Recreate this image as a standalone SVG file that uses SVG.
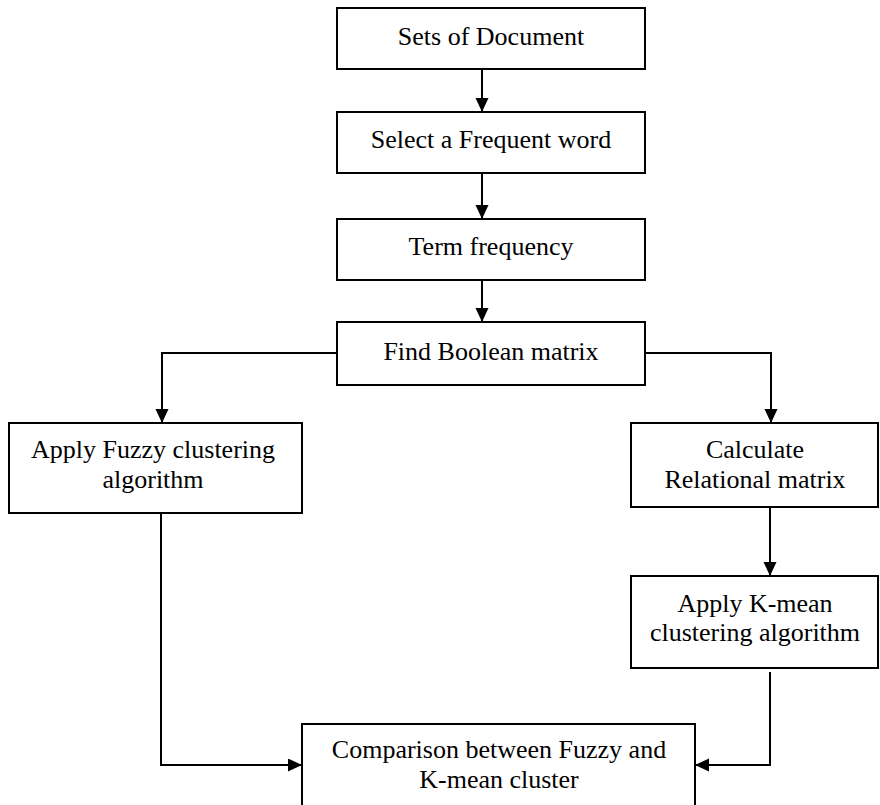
<svg xmlns="http://www.w3.org/2000/svg" width="880" height="805" viewBox="0 0 880 805">
<style>
.box{fill:#fff;stroke:#000;stroke-width:2}
.t{font-family:"Liberation Serif","Times New Roman",serif;font-size:26px;fill:#000;text-anchor:middle}
.c{fill:none;stroke:#000;stroke-width:2}
</style>
<defs>
<marker id="ah" markerUnits="userSpaceOnUse" markerWidth="14" markerHeight="14" refX="14" refY="6.5" orient="auto">
<path d="M0,0 L14,6.5 L0,13 Z" fill="#000"/>
</marker>
</defs>
<rect width="880" height="805" fill="#fff"/>
<g id="connectors">
<line class="c" x1="482" y1="69" x2="482" y2="112" marker-end="url(#ah)"/>
<line class="c" x1="482" y1="173" x2="482" y2="219" marker-end="url(#ah)"/>
<line class="c" x1="482" y1="280" x2="482" y2="322" marker-end="url(#ah)"/>
<polyline class="c" points="337,353 162,353 162,423" marker-end="url(#ah)"/>
<polyline class="c" points="645,353 771,353 771,423" marker-end="url(#ah)"/>
<line class="c" x1="770" y1="507" x2="770" y2="576" marker-end="url(#ah)"/>
<polyline class="c" points="161,513 161,765 302,765" marker-end="url(#ah)"/>
<polyline class="c" points="770,672 770,765 695,765" marker-end="url(#ah)"/>
</g>
<g id="n1"><rect class="box" x="337" y="8" width="308" height="61"/><text class="t" x="491" y="45">Sets of Document</text></g>
<g id="n2"><rect class="box" x="337" y="112" width="308" height="61"/><text class="t" x="491" y="148">Select a Frequent word</text></g>
<g id="n3"><rect class="box" x="337" y="219" width="308" height="61"/><text class="t" x="491" y="255">Term frequency</text></g>
<g id="n4"><rect class="box" x="337" y="322" width="308" height="63"/><text class="t" x="491" y="360">Find Boolean matrix</text></g>
<g id="n5"><rect class="box" x="9" y="423" width="293" height="90"/><text class="t" x="153" y="458">Apply Fuzzy clustering</text><text class="t" x="153" y="488">algorithm</text></g>
<g id="n6"><rect class="box" x="631" y="423" width="247" height="84"/><text class="t" x="755" y="458">Calculate</text><text class="t" x="755" y="488">Relational matrix</text></g>
<g id="n7"><rect class="box" x="631" y="576" width="247" height="92"/><text class="t" x="755" y="612">Apply K-mean</text><text class="t" x="755" y="641">clustering algorithm</text></g>
<g id="n8"><rect class="box" x="302" y="724" width="393" height="92"/><text class="t" x="499" y="758">Comparison between Fuzzy and</text><text class="t" x="499" y="788">K-mean cluster</text></g>
</svg>
